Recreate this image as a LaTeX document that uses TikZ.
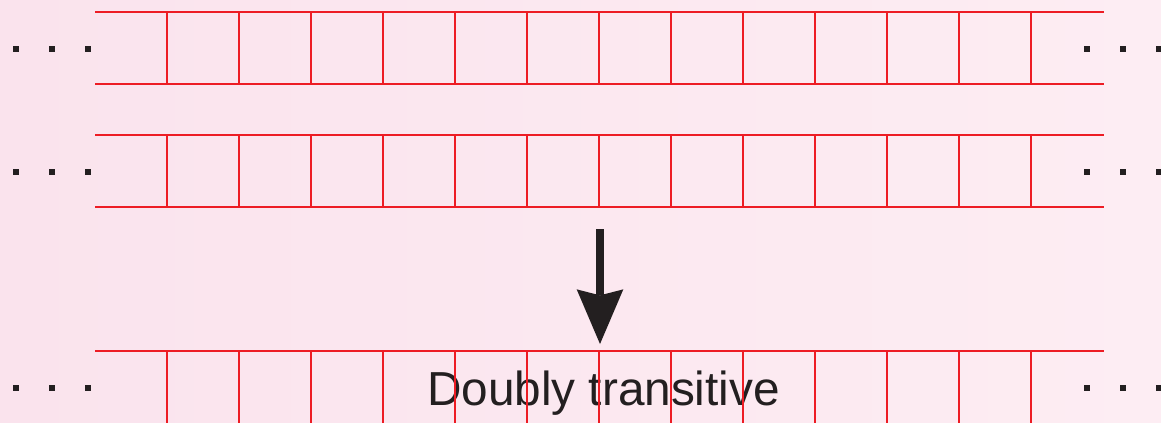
\documentclass[tikz,border=0pt]{standalone}
\usepackage{fontspec}
\setmainfont{Liberation Sans}
\usetikzlibrary{arrows.meta}
\definecolor{cellred}{RGB}{237,28,36}
\definecolor{bgtop}{RGB}{250,227,237}
\definecolor{bgbot}{RGB}{253,237,243}
\definecolor{inkgrey}{RGB}{35,31,32}
\tikzset{
  cellline/.style={draw=cellred, line width=0.8pt},
  dotmark/.style={fill=inkgrey},
}

\begin{document}
\begin{tikzpicture}[x=0.75pt,y=0.75pt,yscale=-1,xscale=1]
  \useasboundingbox (0,0) rectangle (1161,422);
  \clip (0,0) rectangle (1161,422);
  \shade[left color=bgtop, right color=bgbot] (0,0) rectangle (1161,422);
  % label first, the cell lines run over it
  \node (label) at (603.5,405) [anchor=base, inner sep=0pt, text=inkgrey, font=\fontsize{35.8}{40}\selectfont] {Doubly transitive};
  % three strips of cells with dots at both ends (last one runs off the edge)
  \foreach \rowy/\rowh in {12/72,135/72,351/80}{
    \draw[cellline] (95,\rowy) -- (1104,\rowy);
    \draw[cellline] (95,\rowy+\rowh) -- (1104,\rowy+\rowh);
    \foreach \colx in {167,239,...,1031}
      \draw[cellline] (\colx,\rowy) -- (\colx,\rowy+\rowh);
    \foreach \colx in {16,52,88,1087,1123,1159}
      \fill[dotmark] (\colx-3,\rowy+34) rectangle (\colx+3,\rowy+40);
  }
  % arrow down to the last strip
  \coordinate (from) at (600,229);
  \coordinate (to) at (600,344);
  \draw[inkgrey, line width=6pt, -{Stealth[length=41pt,width=35pt,inset=4.5pt,line width=0pt]}] (from) -- (to);
\end{tikzpicture}
\end{document}
